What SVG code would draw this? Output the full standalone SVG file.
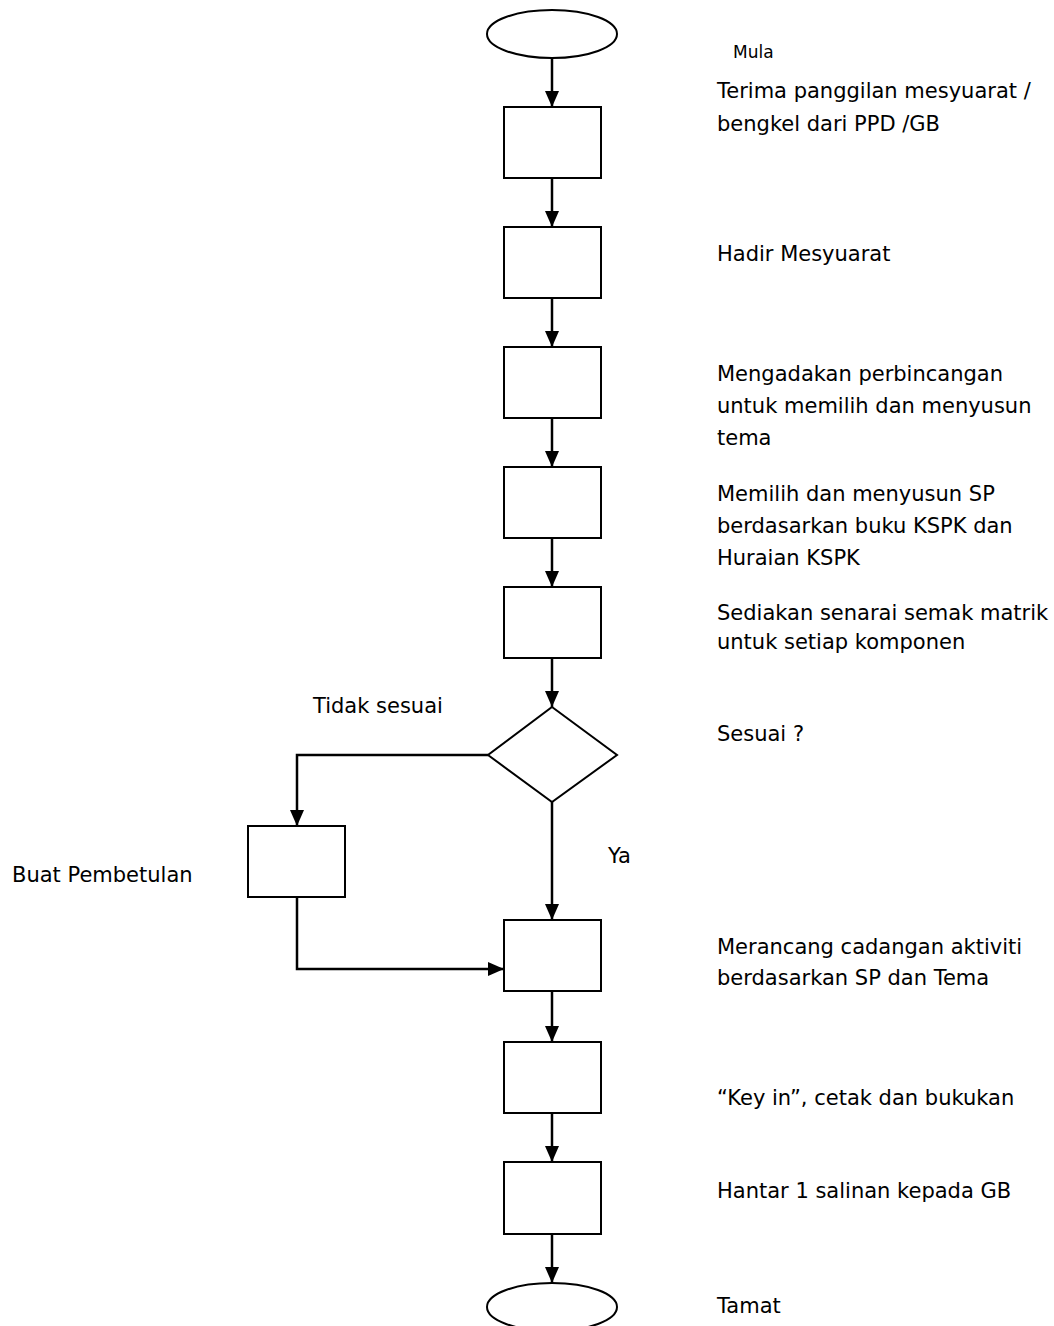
<svg xmlns="http://www.w3.org/2000/svg" width="1054" height="1326" viewBox="0 0 1054 1326">
<style>
.shape{fill:#fff;stroke:#000;stroke-width:2}
.conn{fill:none;stroke:#000;stroke-width:2.5}
.lbl{font-family:"DejaVu Sans","Liberation Sans",sans-serif;font-size:21px;fill:#000}
.sm{font-size:17px}
</style>
<defs>
<marker id="ah" markerUnits="userSpaceOnUse" markerWidth="17" markerHeight="15" refX="16" refY="7" orient="auto">
<path d="M0,0 L16,7 L0,14 z" fill="#000"/>
</marker>
</defs>
<rect width="1054" height="1326" fill="#fff"/>
<g id="connectors">
<line class="conn" x1="552" y1="58" x2="552" y2="107" marker-end="url(#ah)"/>
<line class="conn" x1="552" y1="178" x2="552" y2="227" marker-end="url(#ah)"/>
<line class="conn" x1="552" y1="298" x2="552" y2="347" marker-end="url(#ah)"/>
<line class="conn" x1="552" y1="418" x2="552" y2="467" marker-end="url(#ah)"/>
<line class="conn" x1="552" y1="538" x2="552" y2="587" marker-end="url(#ah)"/>
<line class="conn" x1="552" y1="658" x2="552" y2="707" marker-end="url(#ah)"/>
<line class="conn" x1="552" y1="802" x2="552" y2="920" marker-end="url(#ah)"/>
<polyline class="conn" points="488,755 297,755 297,826" marker-end="url(#ah)"/>
<polyline class="conn" points="297,897 297,969 504,969" marker-end="url(#ah)"/>
<line class="conn" x1="552" y1="991" x2="552" y2="1042" marker-end="url(#ah)"/>
<line class="conn" x1="552" y1="1113" x2="552" y2="1162" marker-end="url(#ah)"/>
<line class="conn" x1="552" y1="1234" x2="552" y2="1283" marker-end="url(#ah)"/>
</g>
<g id="start"><ellipse class="shape" cx="552" cy="34" rx="65" ry="24"/><text class="lbl sm" x="733" y="58">Mula</text></g>
<g id="n1"><rect class="shape" x="504" y="107" width="97" height="71"/><text class="lbl" x="717" y="98">Terima panggilan mesyuarat /</text><text class="lbl" x="717" y="131">bengkel dari PPD /GB</text></g>
<g id="n2"><rect class="shape" x="504" y="227" width="97" height="71"/><text class="lbl" x="717" y="261">Hadir Mesyuarat</text></g>
<g id="n3"><rect class="shape" x="504" y="347" width="97" height="71"/><text class="lbl" x="717" y="381">Mengadakan perbincangan</text><text class="lbl" x="717" y="413">untuk memilih dan menyusun</text><text class="lbl" x="717" y="445">tema</text></g>
<g id="n4"><rect class="shape" x="504" y="467" width="97" height="71"/><text class="lbl" x="717" y="501">Memilih dan menyusun SP</text><text class="lbl" x="717" y="533">berdasarkan buku KSPK dan</text><text class="lbl" x="717" y="565">Huraian KSPK</text></g>
<g id="n5"><rect class="shape" x="504" y="587" width="97" height="71"/><text class="lbl" x="717" y="620">Sediakan senarai semak matrik</text><text class="lbl" x="717" y="649">untuk setiap komponen</text></g>
<g id="d1"><polygon class="shape" points="552,707 617,755 552,802 488,755"/><text class="lbl" x="717" y="741">Sesuai ?</text><text class="lbl" x="313" y="713">Tidak sesuai</text><text class="lbl" x="608" y="863">Ya</text></g>
<g id="fix"><rect class="shape" x="248" y="826" width="97" height="71"/><text class="lbl" x="12" y="882">Buat Pembetulan</text></g>
<g id="n6"><rect class="shape" x="504" y="920" width="97" height="71"/><text class="lbl" x="717" y="954">Merancang cadangan aktiviti</text><text class="lbl" x="717" y="985">berdasarkan SP dan Tema</text></g>
<g id="n7"><rect class="shape" x="504" y="1042" width="97" height="71"/><text class="lbl" x="717" y="1105">“Key in”, cetak dan bukukan</text></g>
<g id="n8"><rect class="shape" x="504" y="1162" width="97" height="72"/><text class="lbl" x="717" y="1198">Hantar 1 salinan kepada GB</text></g>
<g id="end"><ellipse class="shape" cx="552" cy="1307" rx="65" ry="24"/><text class="lbl" x="717" y="1313">Tamat</text></g>
</svg>
